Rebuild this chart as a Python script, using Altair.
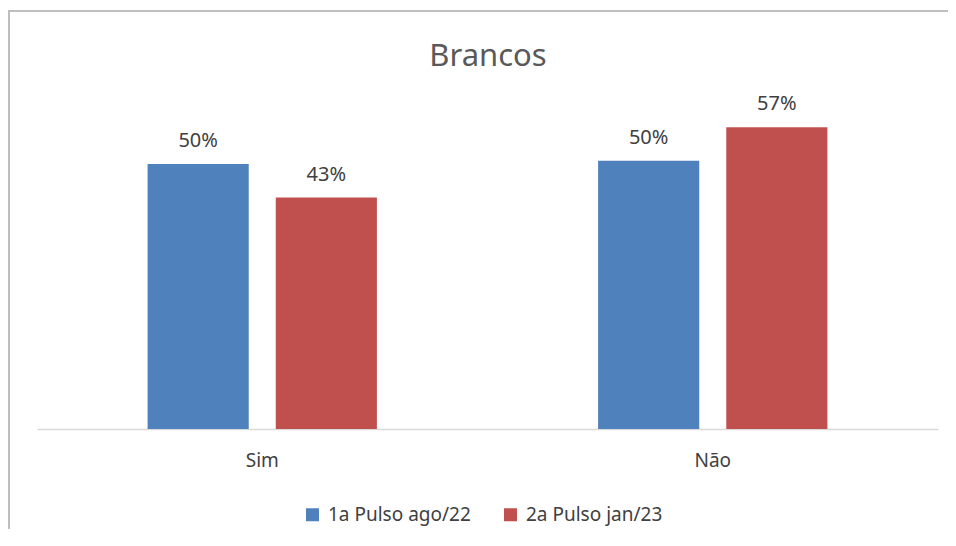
import altair as alt
import pandas as pd

categories = ["Sim", "Não"]
series = ["1a Pulso ago/22", "2a Pulso jan/23"]
values_1a = [0.497, 0.503]
values_2a = [0.434, 0.566]
labels_1a = ["50%", "50%"]
labels_2a = ["43%", "57%"]
colors = ["#4F81BD", "#C0504D"]
title_text = ["Brancos"]

rows = []
for i, c in enumerate(categories):
    rows.append({"cat": c, "serie": series[0], "val": values_1a[i], "lab": labels_1a[i]})
    rows.append({"cat": c, "serie": series[1], "val": values_2a[i], "lab": labels_2a[i]})
df = pd.DataFrame(rows)
tdf = pd.DataFrame({"t": title_text})

FONT = "Noto Sans"

x = alt.X("cat:N", sort=categories, title=None,
          scale=alt.Scale(paddingInner=0.491, paddingOuter=0.2455),
          axis=alt.Axis(labelAngle=0, ticks=False, domainColor="#D9D9D9", domainWidth=1.5,
                        labelFont=FONT, labelFontSize=19, labelColor="#404040",
                        labelPadding=22, grid=False))
xo = alt.XOffset("serie:N", sort=series, scale=alt.Scale(paddingInner=0.211, paddingOuter=0))
y = alt.Y("val:Q", scale=alt.Scale(domain=[0, 0.6]), axis=None)

bars = alt.Chart(df).mark_bar().encode(
    x=x, xOffset=xo, y=y,
    color=alt.Color("serie:N", sort=series, scale=alt.Scale(domain=series, range=colors),
                    legend=alt.Legend(title=None, orient="none", direction="horizontal",
                                      legendX=266, legendY=396, symbolType="square",
                                      symbolSize=169, symbolStrokeWidth=0, padding=0,
                                      labelFont=FONT, labelFontSize=19, labelColor="#404040",
                                      labelOffset=6, columnPadding=30)),
)

text = alt.Chart(df).mark_text(font=FONT, fontSize=20, color="#404040",
                               baseline="alphabetic", dy=-17).encode(
    x=x, xOffset=xo, y=y, text="lab:N")

title = alt.Chart(tdf).mark_text(font=FONT, fontSize=31, color="#595959",
                                 baseline="middle", align="center").encode(
    x=alt.value(451), y=alt.value(-52), text="t:N")

border_top = alt.Chart(df).mark_rule(color="#BFBFBF", strokeWidth=2).encode(
    x=alt.value(-29), x2=alt.value(920), y=alt.value(-98))
border_left = alt.Chart(df).mark_rule(color="#BFBFBF", strokeWidth=2).encode(
    x=alt.value(-28), y=alt.value(-99), y2=alt.value(460))

chart = alt.layer(border_top, border_left, bars, text, title).properties(
    width=901, height=320,
    autosize=alt.AutoSizeParams(type="none"),
    padding={"left": 29, "top": 101, "right": 10, "bottom": 100},
).configure_view(stroke=None)

chart.save("out.html", embed_options={"renderer": "svg", "actions": False})
